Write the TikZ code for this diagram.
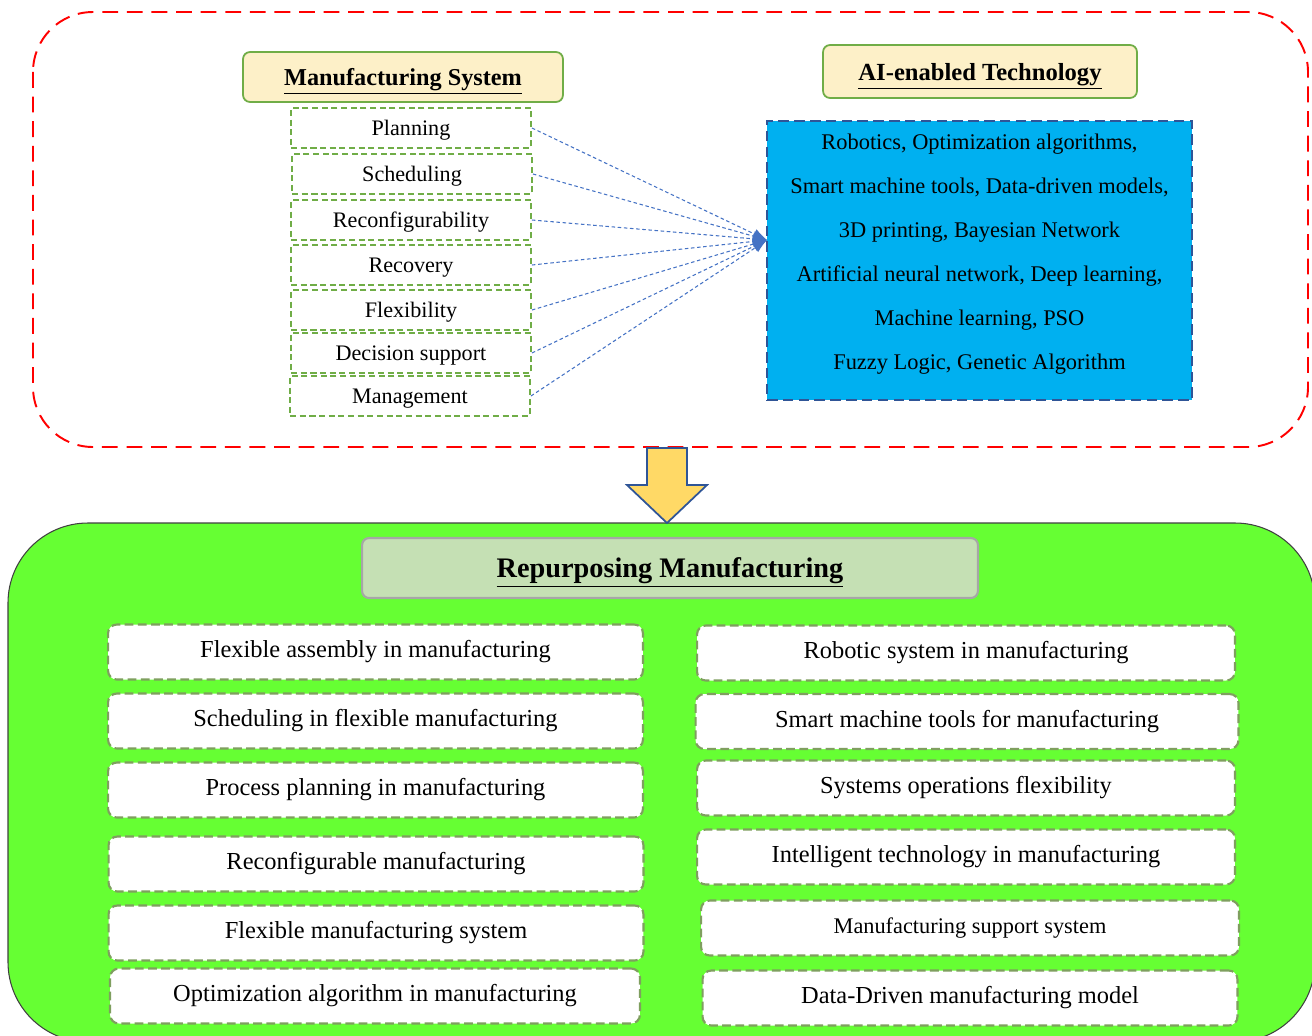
\documentclass[tikz,border=0pt]{standalone}
\usepackage{fontspec}
\setmainfont{Liberation Serif}
\usepackage{tikz}
\usetikzlibrary{arrows.meta}

\definecolor{frame}{HTML}{FF0000}
\definecolor{titlefill}{HTML}{FDF0C8}
\definecolor{boxgreen}{HTML}{70AD47}
\definecolor{techblue}{HTML}{00B0F0}
\definecolor{darkblue}{HTML}{2F5597}
\definecolor{linkblue}{HTML}{4472C4}
\definecolor{arrowfill}{HTML}{FFD966}
\definecolor{lime}{HTML}{66FF33}
\definecolor{repfill}{HTML}{C5E0B4}
\definecolor{itemline}{HTML}{7F9F5F}

\begin{document}
\begin{tikzpicture}[x=0.02cm, y=-0.02cm,
    head/.style={draw=boxgreen, fill=titlefill, line width=1pt, rounded corners=4pt,
      inner sep=0pt, text depth=0pt, font=\fontsize{13.8}{16}\bfseries},
    sysbox/.style={draw=boxgreen, dashed, dash pattern=on 3.5pt off 2pt, line width=1.1pt,
      minimum width=4.8cm, minimum height=0.8cm, inner sep=0pt, text depth=0pt,
      font=\fontsize{12.6}{15}\selectfont},
    link/.style={linkblue, line width=0.6pt, dash pattern=on 2pt off 1.5pt, -{Latex[length=8pt,width=6pt]}},
    item/.style={draw=itemline, fill=white, line width=1.2pt, dash pattern=on 5pt off 2.5pt,
      rounded corners=5pt, minimum height=1.1cm, inner sep=0pt, font=\fontsize{13.9}{16}\selectfont}]
        \useasboundingbox (0,0) rectangle (1312,1035);

        % Upper frame
        \draw[frame, line width=1.1pt, dash pattern=on 9pt off 5pt, rounded corners=1.2cm]
          (33,12) rectangle (1308,447);

        % Manufacturing system
        \node[head, minimum width=6.4cm, minimum height=1cm] (ms) at (403,77) {\underline{Manufacturing System}};
        \node[sysbox] (plan) at (411,128) {Planning};
        \node[sysbox] (sched) at (412,174) {Scheduling};
        \node[sysbox] (reconf) at (411,220) {Reconfigurability};
        \node[sysbox] (recov) at (411,265) {Recovery};
        \node[sysbox] (flex) at (411,310) {Flexibility};
        \node[sysbox] (decis) at (411,353) {Decision support};
        \node[sysbox] (manag) at (410,396) {Management};

        % AI-enabled technology
        \node[head, minimum width=6.28cm, minimum height=1.06cm, font=\fontsize{14}{16}\bfseries] (ai) at (980,71.5) {\underline{AI-enabled Technology}};
        \node[draw=darkblue, fill=techblue, line width=1.2pt, dash pattern=on 6pt off 3pt,
          minimum width=8.5cm, minimum height=5.58cm, inner sep=0pt] (tech) at (979.5,260.5) {};
        \node[align=center, inner sep=0pt, font=\fontsize{12.75}{25}\selectfont] (techtxt) at (979.5,254)
          {Robotics, Optimization algorithms,\\ Smart machine tools, Data-driven models,\\
           3D printing, Bayesian Network\\ Artificial neural network, Deep learning,\\
           Machine learning, PSO\\ Fuzzy Logic, Genetic Algorithm};
        \coordinate (tip) at (767,240);

        % Links
        \draw[link] (plan.east) -- (tip);
        \draw[link] (sched.east) -- (tip);
        \draw[link] (reconf.east) -- (tip);
        \draw[link] (recov.east) -- (tip);
        \draw[link] (flex.east) -- (tip);
        \draw[link] (decis.east) -- (tip);
        \draw[link] (manag.east) -- (tip);

        % Lower frame
        \draw[draw=black!75, fill=lime, line width=0.6pt, rounded corners=1.6cm]
          (8,523) rectangle (1315,1042);

        % Big arrow
        \draw[draw=darkblue, fill=arrowfill, line width=1pt, line join=miter]
          (647,448) -- (687,448) -- (687,485) -- (707,485) -- (667,523) -- (627,485) -- (647,485) -- cycle;

        % Repurposing manufacturing
        \node[draw=black!35, fill=repfill, line width=1.2pt, rounded corners=4pt,
          minimum width=12.32cm, minimum height=1.2cm, inner sep=0pt, text depth=0pt,
          font=\fontsize{16.1}{19}\bfseries] (rep) at (670,568) {\underline{Repurposing Manufacturing}};

        \node[item, minimum width=10.7cm] (L1) at (375.5,652) {Flexible assembly in manufacturing};
        \node[item, minimum width=10.7cm] (L2) at (375.5,721) {Scheduling in flexible manufacturing};
        \node[item, minimum width=10.7cm] (L3) at (375.5,790) {Process planning in manufacturing};
        \node[item, minimum width=10.7cm] (L4) at (376,864) {Reconfigurable manufacturing};
        \node[item, minimum width=10.7cm] (L5) at (376,933) {Flexible manufacturing system};
        \node[item, minimum width=10.6cm] (L6) at (375,996) {Optimization algorithm in manufacturing};

        \node[item, minimum width=10.76cm] (R1) at (966,653) {Robotic system in manufacturing};
        \node[item, minimum width=10.86cm] (R2) at (967,721.5) {Smart machine tools for manufacturing};
        \node[item, minimum width=10.76cm] (R3) at (966,788) {Systems operations flexibility};
        \node[item, minimum width=10.76cm] (R4) at (966,857) {Intelligent technology in manufacturing};
        \node[item, minimum width=10.76cm, font=\fontsize{12.7}{15}\selectfont] (R5) at (970,928) {Manufacturing support system};
        \node[item, minimum width=10.7cm] (R6) at (970,998) {Data-Driven manufacturing model};
    \end{tikzpicture}
\end{document}
